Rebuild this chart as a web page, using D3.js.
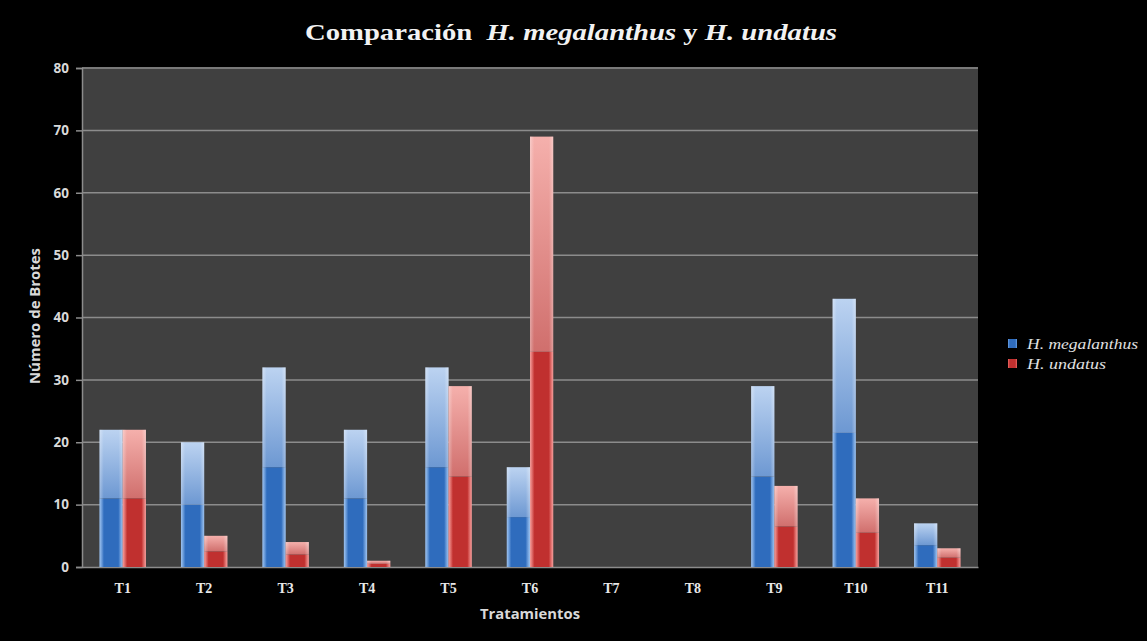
<!DOCTYPE html>
<html><head><meta charset="utf-8">
<script src="https://cdn.jsdelivr.net/npm/d3@7"></script>
<style>html,body{margin:0;padding:0;background:#000;}svg{display:block;}</style>
</head><body>
<script>
const categories = ["T1","T2","T3","T4","T5","T6","T7","T8","T9","T10","T11"];
const megalanthus = [22,20,32,22,32,16,0,0,29,43,7];
const undatus = [22,5,4,1,29,69,0,0,13,11,3];
const seriesNames = ["H. megalanthus","H. undatus"];
const yTicks = [0,10,20,30,40,50,60,70,80];

const W=1147,H=641;
const svg=d3.select("body").append("svg").attr("width",W).attr("height",H);
svg.append("rect").attr("width",W).attr("height",H).attr("fill","#000");

const plot={x0:82,x1:978,y0:68,y1:567};
const x=d3.scaleBand().domain(categories).range([plot.x0,plot.x1]).paddingInner(0.43).paddingOuter(0.215);
const xs=d3.scaleBand().domain([0,1]).range([0,x.bandwidth()]);
const y=d3.scaleLinear().domain([0,80]).range([plot.y1,plot.y0]);

const defs=svg.append("defs");
const pal=[
  {id:"b",dark:"#2f6cbd",darkEdge:"#6aa2e6",topL:"#bcd3f1",topM:"#6d98d2"},
  {id:"r",dark:"#c0302f",darkEdge:"#ee6a66",topL:"#f5b0ac",topM:"#d06f6d"}
];
pal.forEach(p=>{
  let g=defs.append("linearGradient").attr("id","low"+p.id).attr("x1",0).attr("x2",1).attr("y1",0).attr("y2",0);
  g.append("stop").attr("offset","0").attr("stop-color",p.darkEdge);
  g.append("stop").attr("offset","0.2").attr("stop-color",p.dark);
  g.append("stop").attr("offset","0.8").attr("stop-color",p.dark);
  g.append("stop").attr("offset","1").attr("stop-color",p.darkEdge);
  let t=defs.append("linearGradient").attr("id","up"+p.id).attr("x1",0).attr("x2",0).attr("y1",0).attr("y2",1);
  t.append("stop").attr("offset","0").attr("stop-color",p.topL);
  t.append("stop").attr("offset","1").attr("stop-color",p.topM);
});
let e=defs.append("linearGradient").attr("id","edge").attr("x1",0).attr("x2",1).attr("y1",0).attr("y2",0);
e.append("stop").attr("offset","0").attr("stop-color","#fff").attr("stop-opacity",0.35);
e.append("stop").attr("offset","0.18").attr("stop-color","#fff").attr("stop-opacity",0);
e.append("stop").attr("offset","0.82").attr("stop-color","#fff").attr("stop-opacity",0);
e.append("stop").attr("offset","1").attr("stop-color","#fff").attr("stop-opacity",0.35);

// plot background
svg.append("rect").attr("x",plot.x0).attr("y",plot.y0-1).attr("width",plot.x1-plot.x0).attr("height",plot.y1-plot.y0+1).attr("fill","#404040");

// grid
svg.append("g").selectAll("line").data(yTicks.filter(d=>d>0)).join("line")
  .attr("x1",plot.x0).attr("x2",plot.x1).attr("y1",d=>y(d)).attr("y2",d=>y(d))
  .attr("stroke","#8c8c8c").attr("stroke-width",1.5);

// y axis
const ya=svg.append("g").attr("transform",`translate(${plot.x0},0)`)
  .call(d3.axisLeft(y).tickValues(yTicks).tickSize(6).tickPadding(7));
ya.select(".domain").attr("stroke","#8c8c8c").attr("stroke-width",1.5);
ya.selectAll(".tick line").attr("stroke","#8c8c8c").attr("stroke-width",1.5);
ya.selectAll("text").attr("fill","#d9d9d9").attr("font-family","Open Sans, DejaVu Sans, sans-serif").attr("font-weight","bold").attr("font-size",13.5);

// x axis
const xa=svg.append("g").attr("transform",`translate(0,${plot.y1})`)
  .call(d3.axisBottom(x).tickSize(0).tickPadding(16));
xa.select(".domain").attr("stroke","#8c8c8c").attr("stroke-width",1.5);
xa.selectAll("text").attr("fill","#e8e8e8").attr("font-family","Liberation Serif, serif").attr("font-weight","bold").attr("font-size",14);

// bars
const data=[];
categories.forEach((c,i)=>{
  [megalanthus[i],undatus[i]].forEach((v,s)=>data.push({c,s,v}));
});
const bars=svg.append("g").selectAll("g").data(data.filter(d=>d.v>0)).join("g");
bars.append("rect")
  .attr("x",d=>x(d.c)+xs(d.s)).attr("width",xs.bandwidth())
  .attr("y",d=>y(d.v/2)).attr("height",d=>y(0)-y(d.v/2))
  .attr("fill",d=>`url(#low${pal[d.s].id})`);
bars.append("rect")
  .attr("x",d=>x(d.c)+xs(d.s)).attr("width",xs.bandwidth())
  .attr("y",d=>y(d.v)).attr("height",d=>y(d.v/2)-y(d.v))
  .attr("fill",d=>`url(#up${pal[d.s].id})`);
bars.append("rect")
  .attr("x",d=>x(d.c)+xs(d.s)).attr("width",xs.bandwidth())
  .attr("y",d=>y(d.v)).attr("height",d=>y(0)-y(d.v))
  .attr("fill","url(#edge)");

// title
const t=svg.append("text").attr("x",571).attr("y",40).attr("text-anchor","middle")
  .attr("textLength",532).attr("lengthAdjust","spacingAndGlyphs")
  .attr("fill","#f2f2f2").attr("font-family","Liberation Serif, serif").attr("font-weight","bold").attr("font-size",24);
t.append("tspan").text("Comparación\u00a0\u00a0");
t.append("tspan").attr("font-style","italic").text("H. megalanthus");
t.append("tspan").text(" y ");
t.append("tspan").attr("font-style","italic").text("H. undatus");

// axis titles
svg.append("text").attr("x",530).attr("y",619).attr("text-anchor","middle")
  .attr("textLength",100).attr("lengthAdjust","spacingAndGlyphs")
  .attr("fill","#d9d9d9").attr("font-family","Open Sans, DejaVu Sans, sans-serif").attr("font-weight","bold").attr("font-size",14)
  .text("Tratamientos");
svg.append("text").attr("transform",`translate(40,316) rotate(-90)`).attr("text-anchor","middle")
  .attr("textLength",136).attr("lengthAdjust","spacingAndGlyphs")
  .attr("fill","#d9d9d9").attr("font-family","Open Sans, DejaVu Sans, sans-serif").attr("font-weight","bold").attr("font-size",14)
  .text("Número de Brotes");

// legend
const legW=[111,79];
const lg=svg.append("g").selectAll("g").data(seriesNames).join("g")
  .attr("transform",(d,i)=>`translate(1008,${344+i*20})`);
lg.append("rect").attr("x",0).attr("y",-5).attr("width",9).attr("height",9)
  .attr("fill",(d,i)=>`url(#low${pal[i].id})`);
lg.append("text").attr("x",19).attr("y",5).attr("fill","#e0e0e0")
  .attr("textLength",(d,i)=>legW[i]).attr("lengthAdjust","spacingAndGlyphs")
  .attr("font-family","Liberation Serif, serif").attr("font-style","italic").attr("font-size",15).text(d=>d);
</script>
</body></html>
